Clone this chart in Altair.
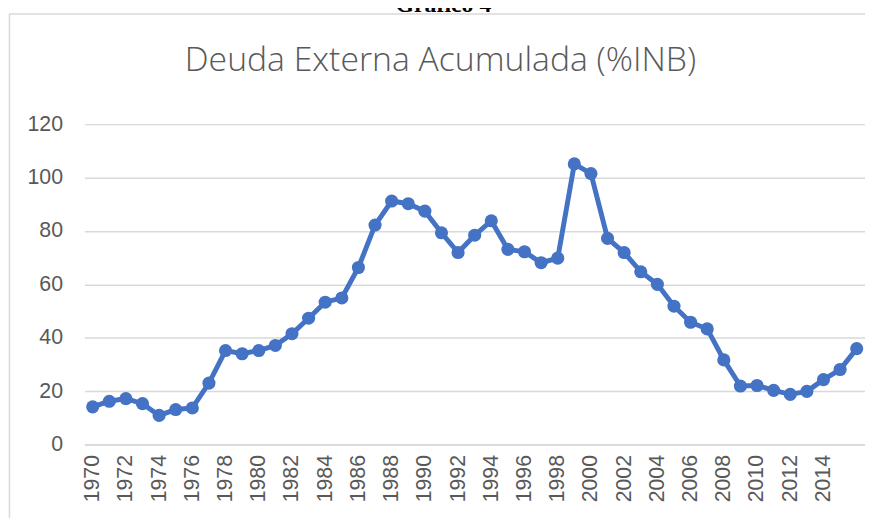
import altair as alt
import pandas as pd

years = list(range(1970, 2017))
values = [14.1, 16.2, 17.2, 15.3, 10.9, 13.1, 13.7, 23.0, 35.2, 34.0,
          35.2, 37.1, 41.5, 47.3, 53.3, 54.9, 66.3, 82.2, 91.2, 90.2,
          87.4, 79.3, 71.9, 78.4, 83.8, 73.1, 72.2, 68.1, 69.8, 105.1,
          101.5, 77.2, 71.9, 64.7, 60.0, 51.8, 45.8, 43.3, 31.7, 21.9,
          22.1, 20.3, 18.8, 19.9, 24.3, 28.1, 35.9]
x_ticks = list(range(1970, 2015, 2))
y_ticks = [0, 20, 40, 60, 80, 100, 120]
title_text = "Deuda Externa Acumulada (%INB)"
header_text = "Gráfico 4"

df = pd.DataFrame({"year": years, "value": values})

W, H = 787, 323
PL, PT = 77, 115
LABEL_FONT = "Liberation Sans"
LABEL_SIZE = 21.5

x = alt.X("year:Q",
          scale=alt.Scale(domain=[1969.5, 2016.5], nice=False, zero=False),
          axis=alt.Axis(values=x_ticks, format="d", labelAngle=270, grid=False,
                        ticks=False, domainColor="#D9D9D9", domainWidth=1.5,
                        labelPadding=10, labelFont=LABEL_FONT,
                        labelFontSize=LABEL_SIZE, labelColor="#595959",
                        title=None))
y = alt.Y("value:Q",
          scale=alt.Scale(domain=[0, 120], nice=False),
          axis=alt.Axis(values=y_ticks, grid=True, gridColor="#D9D9D9",
                        gridWidth=1.5, domain=False, ticks=False,
                        labelPadding=22, labelFont=LABEL_FONT,
                        labelFontSize=LABEL_SIZE, labelColor="#595959",
                        title=None))

base = alt.Chart(df)
line = base.mark_line(color="#4472C4", strokeWidth=5).encode(x=x, y=y)
pts = base.mark_circle(color="#4472C4", size=175, opacity=1).encode(x=x, y=y)

tdf = pd.DataFrame({"t": [title_text]})
title = alt.Chart(tdf).mark_text(font="Open Sans", fontSize=34, fontWeight=300,
                                 color="#595959", align="center",
                                 baseline="alphabetic").encode(
    text="t:N", x=alt.value(444 - 8 - PL), y=alt.value(69 - 8 - PT))

hdf = pd.DataFrame({"t": [header_text]})
header = alt.Chart(hdf).mark_text(font="Liberation Serif", fontSize=24,
                                  fontWeight="bold", color="#000000",
                                  align="center", baseline="alphabetic").encode(
    text="t:N", x=alt.value(447 - 8 - PL), y=alt.value(2 - PT))

top_rule = alt.Chart(tdf).mark_rule(color="#D9D9D9", strokeWidth=1.5).encode(
    x=alt.value(1 - PL), x2=alt.value(W + 10), y=alt.value(4 - PT))
left_rule = alt.Chart(tdf).mark_rule(color="#D9D9D9", strokeWidth=1.5).encode(
    x=alt.value(1.5 - PL), y=alt.value(4 - PT), y2=alt.value(H + 100))

chart = alt.layer(top_rule, left_rule, header, title, line, pts).properties(
    width=W, height=H,
    autosize=alt.AutoSizeParams(type="none"),
    padding={"left": PL, "top": PT, "right": 0, "bottom": 72},
).configure_view(strokeWidth=0)

chart.save("out.html", embed_options={"renderer": "svg", "actions": False})
